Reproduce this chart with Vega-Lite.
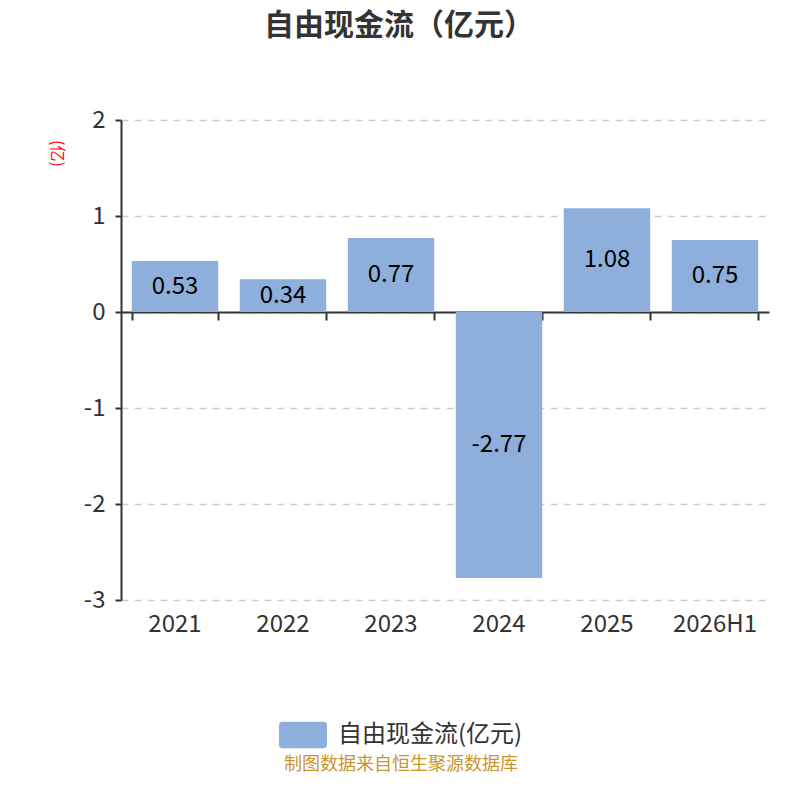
{
  "$schema": "https://vega.github.io/schema/vega-lite/v6.json",
  "autosize": {"type": "none"},
  "width": 648,
  "height": 480,
  "padding": {"left": 121, "top": 120, "right": 31, "bottom": 200},
  "title": {
    "text": "自由现金流（亿元）",
    "fontSize": 30,
    "fontWeight": "bold",
    "color": "#333333",
    "font": "Noto Sans CJK SC",
    "anchor": "middle",
    "dx": -46,
    "offset": 67
  },
  "data": {
    "values": [
      {"period": "2021", "value": 0.53, "series": "自由现金流(亿元)"},
      {"period": "2022", "value": 0.34, "series": "自由现金流(亿元)"},
      {"period": "2023", "value": 0.77, "series": "自由现金流(亿元)"},
      {"period": "2024", "value": -2.77, "series": "自由现金流(亿元)"},
      {"period": "2025", "value": 1.08, "series": "自由现金流(亿元)"},
      {"period": "2026H1", "value": 0.75, "series": "自由现金流(亿元)"}
    ]
  },
  "layer": [
    {
      "mark": {"type": "bar", "color": "#8eaedb"},
      "encoding": {
        "x": {
          "field": "period",
          "type": "ordinal",
          "sort": null,
          "scale": {"paddingInner": 0.2, "paddingOuter": 0.1},
          "axis": {
            "orient": "bottom",
            "title": null,
            "domain": false,
            "ticks": false,
            "labelAngle": 0,
            "labelFontSize": 24,
            "labelColor": "#333333",
            "labelFont": "Noto Sans CJK SC",
            "labelPadding": 12
          }
        },
        "y": {
          "field": "value",
          "type": "quantitative",
          "scale": {"domain": [-3, 2], "nice": false},
          "axis": {
            "values": [-3, -2, -1, 0, 1, 2],
            "labelExpr": "'' + datum.value",
            "title": "(亿)",
            "titleAngle": 90,
            "titleColor": "#ff0000",
            "titleFontSize": 16,
            "titleFontWeight": "normal",
            "titleFont": "Noto Sans CJK SC",
            "titleAnchor": null,
            "titleAlign": "center",
            "titleBaseline": "middle",
            "titleX": -65,
            "titleY": 33,
            "labelFontSize": 24,
            "labelColor": "#333333",
            "labelFont": "Noto Sans CJK SC",
            "labelPadding": 10,
            "domainColor": "#333333",
            "domainWidth": 2,
            "tickColor": "#333333",
            "tickWidth": 2,
            "tickSize": 6,
            "gridColor": "#cccccc",
            "gridDash": [7, 6],
            "gridWidth": 1.5
          }
        },
        "color": {
          "field": "series",
          "type": "nominal",
          "scale": {"range": ["#8eaedb"]},
          "legend": {
            "orient": "none",
            "legendX": 158,
            "legendY": 591,
            "direction": "horizontal",
            "title": "制图数据来自恒生聚源数据库",
            "titleOrient": "bottom",
            "titleLimit": 400,
            "titleColor": "#c8962e",
            "titleFontSize": 18,
            "titleFontWeight": "normal",
            "titleFont": "Noto Sans CJK SC",
            "titleAnchor": "middle",
            "titlePadding": 8,
            "labelFontSize": 24,
            "labelLimit": 400,
            "labelColor": "#333333",
            "labelFont": "Noto Sans CJK SC",
            "labelOffset": 11,
            "symbolType": "M-0.85,-0.55 H0.85 Q1,-0.55 1,-0.4 V0.4 Q1,0.55 0.85,0.55 H-0.85 Q-1,0.55 -1,0.4 V-0.4 Q-1,-0.55 -0.85,-0.55 Z",
            "symbolSize": 2304,
            "symbolStrokeWidth": 0,
            "symbolOpacity": 1
          }
        }
      }
    },
    {
      "mark": {"type": "text", "fontSize": 24, "color": "#000000", "font": "Noto Sans CJK SC", "baseline": "middle"},
      "encoding": {
        "x": {"field": "period", "type": "ordinal", "sort": null, "axis": null},
        "y": {
          "field": "value",
          "type": "quantitative",
          "scale": {"domain": [-6, 4], "nice": false},
          "axis": null
        },
        "text": {"field": "value", "type": "nominal"}
      }
    },
    {
      "mark": {"type": "rule", "strokeWidth": 0},
      "encoding": {
        "x": {
          "field": "period",
          "type": "ordinal",
          "sort": null,
          "axis": {
            "orient": "bottom",
            "offset": -288,
            "title": null,
            "labels": false,
            "domain": true,
            "domainColor": "#333333",
            "domainWidth": 2,
            "ticks": true,
            "tickBand": "extent",
            "tickColor": "#333333",
            "tickWidth": 2,
            "tickSize": 8,
            "grid": false
          }
        },
        "y": {"datum": 0, "axis": null}
      }
    }
  ],
  "resolve": {"axis": {"x": "independent"}, "scale": {"y": "independent"}},
  "config": {
    "view": {"stroke": null},
    "axisX": {"grid": false},
    "font": "Noto Sans CJK SC"
  }
}
